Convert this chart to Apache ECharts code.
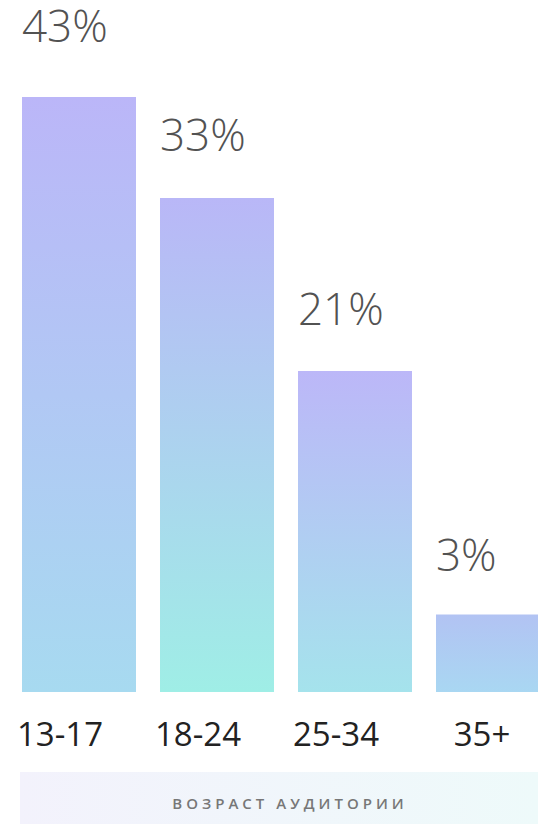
<!DOCTYPE html>
<html>
<head>
<meta charset="utf-8">
<script src="https://cdn.jsdelivr.net/npm/echarts@6/dist/echarts.min.js"></script>
<style>
html,body{margin:0;padding:0;background:#fff;overflow:hidden;width:538px;height:824px;}
#c{width:562px;height:824px;}
</style>
</head>
<body>
<div id="c"></div>
<script>
// ---- data ----
var categories = ['13-17', '18-24', '25-34', '35+'];
var percentLabels = [43, 33, 21, 3];          // values printed above the bars
var barHeights = [43, 35.7, 23.2, 5.6];        // bar heights as drawn in the picture (same % scale)
var axisTitle = 'ВОЗРАСТ АУДИТОРИИ';

// ---- styles ----
var barColors = [
  ['#bbb6f8', '#a7daf0'],
  ['#b9b7f7', '#9feee6'],
  ['#bcb7f8', '#a5e3ec'],
  ['#b2c3f3', '#a9d7f2']
];
var labelGaps = [55, 47, 46, 43];

var chart = echarts.init(document.getElementById('c'), null, {renderer: 'svg'});

var seriesData = barHeights.map(function (v, i) {
  return {
    value: v,
    itemStyle: {
      color: new echarts.graphic.LinearGradient(0, 0, 0, 1, [
        {offset: 0, color: barColors[i][0]},
        {offset: 1, color: barColors[i][1]}
      ])
    },
    label: {distance: labelGaps[i]}
  };
});

var catData = categories.map(function (c, i) {
  return i === 3 ? {value: c, textStyle: {padding: [0, 22, 0, 0]}} : c;
});

chart.setOption({
  animation: false,
  backgroundColor: '#ffffff',
  grid: {left: 10, top: 0, right: 0, bottom: 132, containLabel: false},
  xAxis: {
    type: 'category',
    data: catData,
    axisLine: {show: false},
    axisTick: {show: false},
    axisLabel: {
      margin: 25,
      fontFamily: 'Open Sans',
      fontSize: 33,
      fontWeight: 500,
      color: '#222222',
      padding: [0, 38, 0, 0],
      interval: 0
    }
  },
  yAxis: {
    type: 'value',
    min: 0,
    max: 50,
    show: false,
    splitLine: {show: false}
  },
  series: [{
    type: 'bar',
    data: seriesData,
    barWidth: 114,
    label: {
      show: true,
      position: 'top',
      align: 'left',
      offset: [-57, 0],
      fontFamily: 'Open Sans',
      fontSize: 44,
      lineHeight: 34,
      fontWeight: 300,
      color: '#525252',
      formatter: function (p) { return percentLabels[p.dataIndex] + '%'; }
    }
  }],
  graphic: [
    {
      type: 'rect',
      left: 20,
      top: 772,
      shape: {width: 518, height: 52},
      style: {
        fill: new echarts.graphic.LinearGradient(0, 0, 1, 0, [
          {offset: 0, color: '#f3f2fc'},
          {offset: 1, color: '#eefafa'}
        ])
      },
      z: 0
    },
    {
      type: 'text',
      x: 290,
      y: 803,
      style: {
        text: axisTitle,
        fontFamily: 'Open Sans',
        fontSize: 15,
        fontWeight: 600,
        fill: '#777777',
        align: 'center',
        verticalAlign: 'middle'
      },
      z: 1
    }
  ]
});

function spaceTitle() {
  var texts = document.querySelectorAll('#c text');
  for (var i = 0; i < texts.length; i++) {
    if (texts[i].textContent.indexOf('ВОЗРАСТ') >= 0) {
      texts[i].setAttribute('letter-spacing', '4');
      texts[i].style.letterSpacing = '4px';
    }
  }
}
chart.on('finished', spaceTitle);
setTimeout(spaceTitle, 50);
</script>
</body>
</html>
